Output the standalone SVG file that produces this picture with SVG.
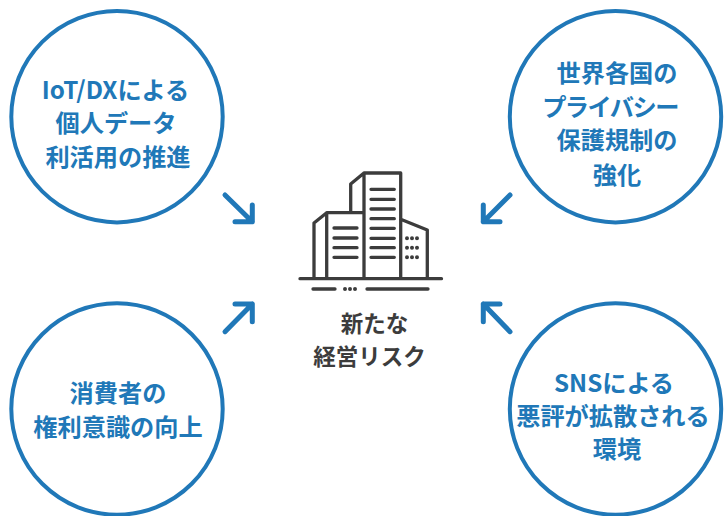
<svg xmlns="http://www.w3.org/2000/svg" width="724" height="516" viewBox="0 0 724 516">
<style>
.c{fill:#fff;stroke:#2078b8;stroke-width:4}
.t{font-family:"Noto Sans CJK JP","Noto Sans",sans-serif;font-size:24.2px;font-weight:700;fill:#2078b8;text-anchor:middle}
.k{font-family:"Noto Sans CJK JP","Noto Sans",sans-serif;font-size:22.5px;font-weight:700;fill:#3c3c3c;text-anchor:middle}
.a{fill:none;stroke:#2078b8;stroke-width:5;stroke-linecap:round;stroke-linejoin:round}
.b{fill:none;stroke:#3c3c3c;stroke-width:3.3;stroke-linecap:round;stroke-linejoin:round}
.d{fill:none;stroke:#3c3c3c;stroke-width:4;stroke-linecap:round;stroke-dasharray:0 5}
</style>
<rect width="724" height="516" fill="#fff"/>
<g id="node-iot"><circle class="c" cx="117" cy="116.700" r="105.700"/><text class="t" x="115.500" y="98.500">IoT/DXによる</text><text class="t" x="116" y="131.500">個人データ</text><text class="t" x="118" y="165.500">利活用の推進</text></g>
<g id="node-world"><circle class="c" cx="615.500" cy="116.700" r="105.700"/><text class="t" x="617" y="81.500">世界各国の</text><text class="t" x="610" y="115.500" letter-spacing="-1.500">プライバシー</text><text class="t" x="617" y="148.500">保護規制の</text><text class="t" x="617" y="183.500">強化</text></g>
<g id="node-consumer"><circle class="c" cx="117" cy="409" r="105.700"/><text class="t" x="118" y="401.500">消費者の</text><text class="t" x="118" y="435.500">権利意識の向上</text></g>
<g id="node-sns"><circle class="c" cx="615.500" cy="409" r="105.700"/><text class="t" x="614" y="391.500">SNSによる</text><text class="t" x="613" y="424.500">悪評が拡散される</text><text class="t" x="617" y="457.500">環境</text></g>
<g id="node-center">
<path class="b" d="M300 278.700H441.500M314 278V223L326.700 212.700H364M326.700 212.700V278M364 278V173H400.700V278M364 173L350.700 184V212M400.700 219.300L427.300 230V278"/>
<path class="b" d="M334 228H357M334 238H357M334 247.700H357M334 257.300H357M371 189.300H394.300M371 199.300H394.300M371 209H394.300M371 218.700H394.300M371 228.300H394.300M371 238.300H394.300M371 247.700H394.300M371 257.300H394.300M313 289H335M367 289H428"/>
<path class="d" d="M407 238.300H422M407 247.700H422M407 257.300H422M345 289H358"/>
<text class="k" x="374.500" y="331.500">新たな</text><text class="k" x="369.500" y="364.500">経営リスク</text>
</g>
<g id="connectors">
<path class="a" d="M225 195L252.300 221.700M252.300 205V221.700H235"/>
<path class="a" d="M225 331.700L252.300 304M235 304H252.300V321.700"/>
<path class="a" d="M510 195L483.300 221.700M483.300 205V221.700H500"/>
<path class="a" d="M510 331.700L483.300 304M500 304H483.300V321.700"/>
</g>
</svg>
